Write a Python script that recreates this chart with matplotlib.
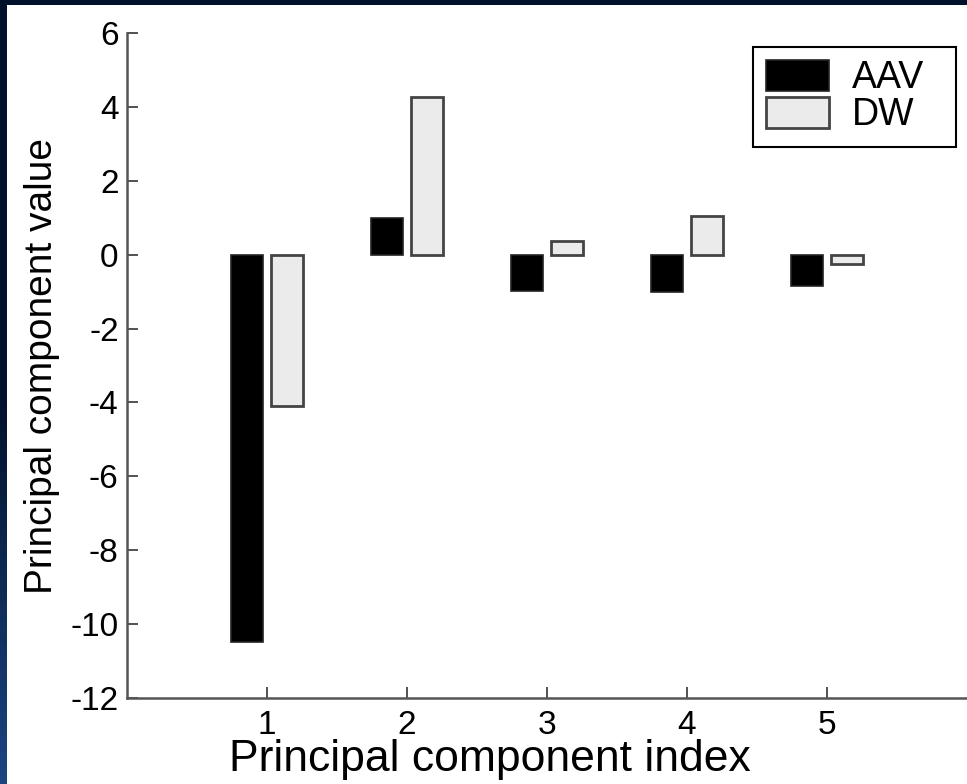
import numpy as np
import matplotlib.pyplot as plt
from matplotlib.patches import Rectangle
from matplotlib.colors import LinearSegmentedColormap

plt.rcParams['font.family'] = ['Liberation Sans', 'DejaVu Sans']
plt.rcParams['axes.unicode_minus'] = False

# data
components = [1, 2, 3, 4, 5]
aav = [-10.48, 1.0, -0.98, -1.0, -0.85]
dw = [-4.1, 4.27, 0.37, 1.05, -0.24]
series_names = ['AAV', 'DW']
yticks = [-12, -10, -8, -6, -4, -2, 0, 2, 4, 6]

fig = plt.figure(figsize=(9.67, 7.84), dpi=100)
fig.patch.set_facecolor('#00112b')
# white slide panel inside the dark frame (drawn beneath the axes)
fig.patches.append(Rectangle((7/967, 0), 1 - 7/967, 1 - 5/784, transform=fig.transFigure,
                             facecolor='white', edgecolor='none', zorder=-5))

# bluish fade on the left frame strip
strip = fig.add_axes([0, 0, 7/967, 1 - 5/784], zorder=-4)
cmap = LinearSegmentedColormap.from_list('frame', ['#00112b', '#00112b', '#1c4580'])
strip.imshow(np.linspace(0, 1, 100).reshape(-1, 1), aspect='auto', cmap=cmap)
strip.axis('off')

ax = fig.add_axes([127/967, 86/784, 1 - 127/967, 665/784])
ax.set_facecolor('white')

x = np.array(components)
offset = 0.143
width = 0.235
ax.bar(x - offset, aav, width, color='black', edgecolor='#222222', linewidth=1.2, label=series_names[0])
ax.bar(x + offset, dw, width, color='#ebebeb', edgecolor='#444444', linewidth=2.0, label=series_names[1])

ax.set_xlim(0, 6)
ax.set_ylim(-12, 6)
ax.set_xticks(components)
ax.set_yticks(yticks)
ax.tick_params(axis='both', direction='in', length=8, width=1.2, colors='#333333',
               labelcolor='black', labelsize=24)
ax.tick_params(axis='y', pad=6)
ax.tick_params(axis='x', pad=9)

for s in ['top', 'right']:
    ax.spines[s].set_visible(False)
for s in ['left', 'bottom']:
    ax.spines[s].set_color('#555555')
    ax.spines[s].set_linewidth(1.8)

ax.set_xlabel('Principal component index', fontsize=32, va='baseline')
ax.xaxis.set_label_coords((490 - 127) / 840, -(771 - 698) / 665)
ax.set_ylabel('Principal component value', fontsize=28)
ax.yaxis.set_label_coords(-(127 - 60) / 840, 0.5)

leg = ax.legend(loc='upper left', bbox_to_anchor=((753 - 127) / 840, 0.779, (956 - 753) / 840, 0.2),
                mode='expand', borderaxespad=0,
                fontsize=27, fancybox=False, edgecolor='black', framealpha=1,
                handlelength=1.68, handleheight=0.88, labelspacing=0.02, borderpad=0.35,
                handletextpad=0.6)
leg.get_frame().set_linewidth(1.5)

plt.savefig('out.png', dpi=100, facecolor=fig.get_facecolor())
